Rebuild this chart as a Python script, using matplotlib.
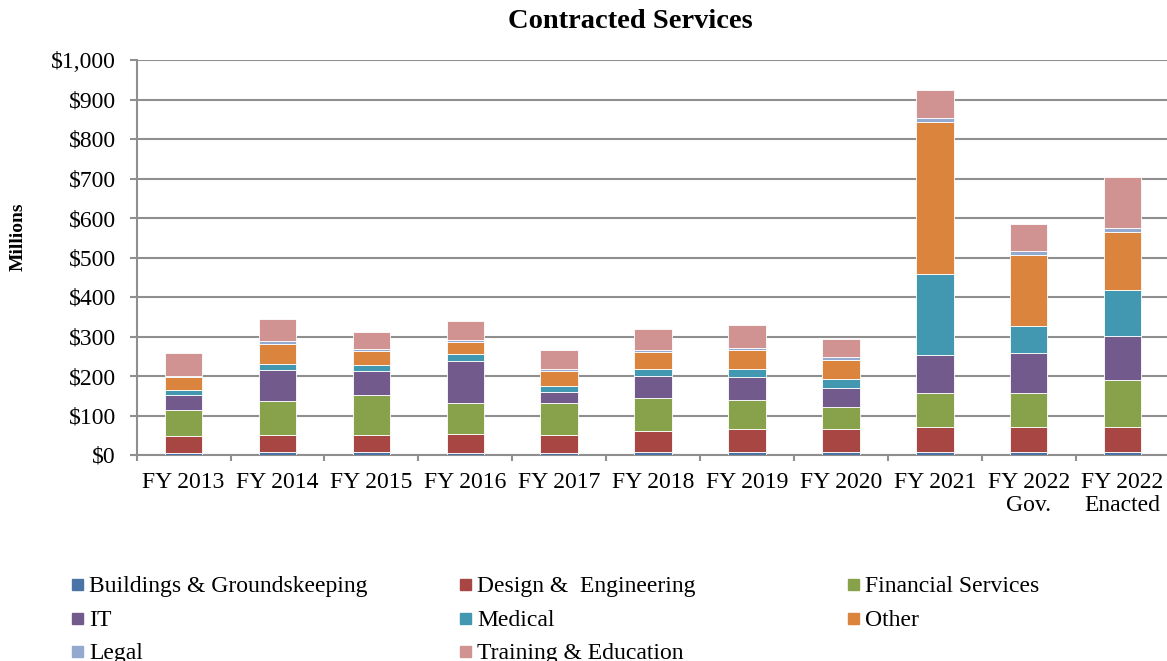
import numpy as np
import matplotlib.pyplot as plt
from matplotlib.patches import Rectangle

plt.rcParams['font.family'] = ['Liberation Serif', 'DejaVu Serif']

# contracted services by category, $ millions
years = ['FY 2013', 'FY 2014', 'FY 2015', 'FY 2016', 'FY 2017', 'FY 2018',
         'FY 2019', 'FY 2020', 'FY 2021', 'FY 2022\nGov.', 'FY 2022\nEnacted']
buildings = [6, 7, 7, 6, 6, 8, 7, 8, 7, 8, 8]
design = [43, 44, 43, 47, 44, 53, 60, 59, 63, 62, 64]
financial = [65, 86, 102, 79, 81, 83, 73, 54, 86, 86, 117]
it = [38, 79, 61, 107, 28, 55, 58, 48, 96, 103, 113]
medical = [13, 15, 14, 17, 16, 18, 20, 24, 207, 67, 116]
other = [32, 51, 36, 30, 37, 44, 48, 48, 383, 181, 146]
legal = [3, 7, 5, 6, 6, 6, 6, 6, 11, 10, 10]
training = [57, 55, 43, 47, 47, 52, 58, 47, 71, 69, 131]

names = ['Buildings & Groundskeeping', 'Design &  Engineering', 'Financial Services',
         'IT', 'Medical', 'Other', 'Legal', 'Training & Education']
colors = ['#4A73A6', '#A84644', '#88A24B', '#725A8C', '#4398B1', '#DB843D',
          '#93A9CF', '#D19391']
series = [buildings, design, financial, it, medical, other, legal, training]

y_ticks = [0, 100, 200, 300, 400, 500, 600, 700, 800, 900, 1000]
y_labels = ['\\$0', '\\$100', '\\$200', '\\$300', '\\$400', '\\$500', '\\$600',
            '\\$700', '\\$800', '\\$900', '\\$1,000']

W, H = 1167, 661
fig = plt.figure(figsize=(W / 100, H / 100), dpi=100)
ax = fig.add_axes([136.7 / W, 1 - 455 / H, 1032.8 / W, 395 / H])

x = np.arange(len(years))
bottom = np.zeros(len(years))
for vals, c in zip(series, colors):
    ax.bar(x, vals, width=0.4, bottom=bottom, color=c, edgecolor='white',
           linewidth=0.6, zorder=3)
    bottom += np.array(vals)

ax.set_xlim(-0.5, len(years) - 0.5)
ax.set_ylim(0, 1000)
ax.set_yticks(y_ticks)
ax.set_yticklabels(y_labels)
ax.set_xticks(x)
ax.set_xticklabels(years, linespacing=1.15)
ax.set_xticks(np.arange(-0.5, len(years), 1), minor=True)

grey = '#8f8f8f'
ax.yaxis.grid(True, color=grey, linewidth=1.5)
ax.set_axisbelow(True)
for s in ['top', 'right']:
    ax.spines[s].set_visible(False)
for s in ['left', 'bottom']:
    ax.spines[s].set_color(grey)
    ax.spines[s].set_linewidth(1.5)

ax.tick_params(axis='y', length=5, width=1.5, color=grey, pad=10, labelsize=17)
ax.tick_params(axis='x', which='major', length=0, pad=12, labelsize=17)
ax.tick_params(axis='x', which='minor', length=4, width=1.5, color=grey)

fig.text(630 / W, 1 - 22 / H, 'Contracted Services', ha='center', va='center',
         fontsize=20.5, fontweight='bold')
fig.text(18 / W, 1 - 237 / H, 'Millions', ha='center', va='center',
         rotation=90, fontsize=14, fontweight='bold')

# legend laid out row by row, three columns
for i, (name, c) in enumerate(zip(names, colors)):
    row, col = divmod(i, 3)
    lx = 72 + col * 388
    base = 592 + row * 33.5
    fig.add_artist(Rectangle((lx / W, 1 - (base - 2) / H), 11 / W, 11 / H,
                             transform=fig.transFigure, color=c))
    fig.text((lx + 17) / W, 1 - base / H, name, ha='left', va='baseline',
             fontsize=17)

fig.savefig('out.png', dpi=100)
